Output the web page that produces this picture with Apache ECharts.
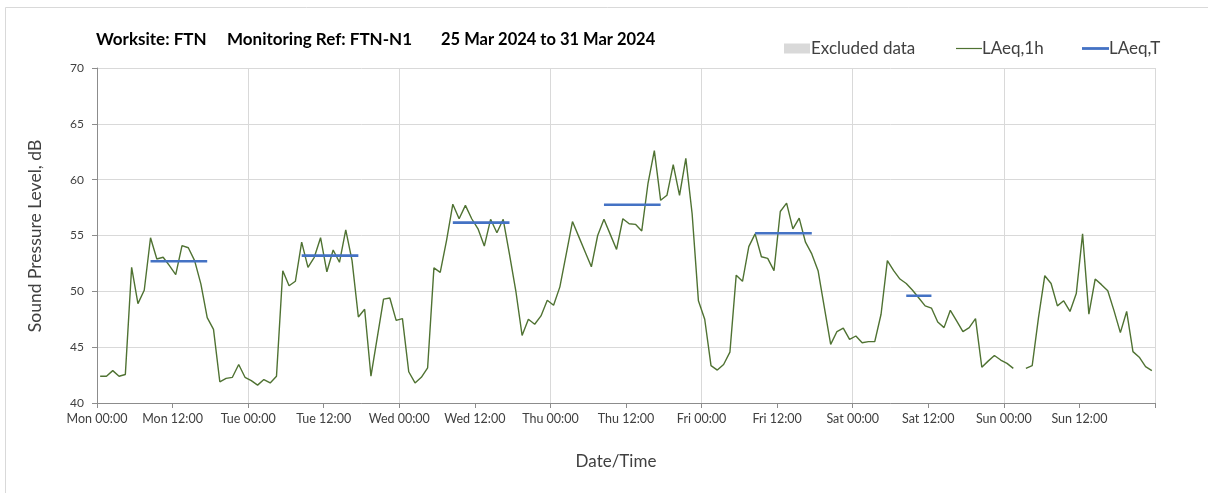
<!DOCTYPE html>
<html>
<head>
<meta charset="utf-8">
<script src="https://cdn.jsdelivr.net/npm/echarts@6/dist/echarts.min.js"></script>
<style>
html,body{margin:0;padding:0;background:#fff;}
#chart{width:1208px;height:493px;}
</style>
</head>
<body>
<div id="chart"></div>
<script>
// ---- Data ----
const dayNames = ['Mon', 'Tue', 'Wed', 'Thu', 'Fri', 'Sat', 'Sun'];
const tickTimes = ['00:00', '12:00'];
const yTicks = [40, 45, 50, 55, 60, 65, 70];

// Hourly LAeq,1h values, Mon 00:00 .. Sun 23:00 (null = missing)
const laeq1hMon = [42.4, 42.4, 42.9, 42.4, 42.55, 52.15, 48.9, 50.1, 54.8, 52.9, 53.05, 52.3, 51.5, 54.1, 53.9, 52.75, 50.65, 47.65, 46.6, 41.9, 42.2, 42.3, 43.45, 42.3];
const laeq1hTue = [42.0, 41.6, 42.1, 41.8, 42.4, 51.85, 50.5, 50.9, 54.4, 52.15, 53.05, 54.8, 51.75, 53.7, 52.6, 55.5, 52.75, 47.7, 48.4, 42.4, 45.85, 49.3, 49.4, 47.4];
const laeq1hWed = [47.55, 42.8, 41.8, 42.3, 43.15, 52.1, 51.7, 54.55, 57.8, 56.5, 57.7, 56.5, 55.6, 54.05, 56.45, 55.25, 56.45, 53.3, 50.05, 46.05, 47.5, 47.05, 47.8, 49.2];
const laeq1hThu = [48.75, 50.4, 53.3, 56.25, 54.9, 53.55, 52.2, 55.0, 56.45, 55.1, 53.75, 56.5, 56.05, 56.0, 55.4, 59.7, 62.6, 58.15, 58.6, 61.35, 58.6, 61.9, 56.95, 49.15];
const laeq1hFri = [47.5, 43.35, 42.95, 43.45, 44.55, 51.45, 50.9, 54.0, 55.15, 53.1, 52.95, 51.85, 57.15, 57.9, 55.6, 56.55, 54.4, 53.35, 51.85, 48.55, 45.25, 46.4, 46.7, 45.7];
const laeq1hSat = [46.0, 45.4, 45.5, 45.5, 47.95, 52.75, 51.85, 51.1, 50.7, 50.1, 49.4, 48.7, 48.5, 47.25, 46.75, 48.3, 47.35, 46.4, 46.75, 47.55, 43.2, 43.75, 44.25, 43.85];
const laeq1hSun = [43.55, 43.1, null, 43.1, 43.35, 47.65, 51.4, 50.7, 48.7, 49.15, 48.2, 49.8, 55.15, 47.95, 51.1, 50.6, 50.05, 48.25, 46.3, 48.2, 44.6, 44.1, 43.25, 42.9];

// LAeq,T (assessment period level) per day
const laeqTDay = [0, 1, 2, 3, 4, 5];
const laeqTValue = [52.7, 53.2, 56.15, 57.75, 55.2, 49.6];
const laeqTFirstHour = [8, 8, 8, 8, 8, 8];
const laeqTLastHour = [17, 17, 17, 17, 17, 12];

// ---- Build series data ----
const hourly = [].concat(laeq1hMon, laeq1hTue, laeq1hWed, laeq1hThu, laeq1hFri, laeq1hSat, laeq1hSun);
const lineData = hourly.map((v, i) => [i + 0.5, v]);

const tData = [];
laeqTDay.forEach((d, k) => {
  for (let h = laeqTFirstHour[k]; h <= laeqTLastHour[k]; h++) {
    tData.push([d * 24 + h + 0.5, laeqTValue[k]]);
  }
  tData.push([d * 24 + 23.9, null]);
});

const FONT = 'Lato, "Open Sans", sans-serif';
const TXT = '#404040';

const chart = echarts.init(document.getElementById('chart'), null, {renderer: 'canvas'});
chart.setOption({
  animation: false,
  backgroundColor: '#fff',
  textStyle: {fontFamily: FONT},
  grid: {left: 97, right: 53, top: 68, bottom: 90, containLabel: false},
  legend: [
    {left: 779, top: 35, itemWidth: 26, itemHeight: 10, itemGap: 0, icon: 'rect',
     data: ['Excluded data'], textStyle: {fontFamily: FONT, fontSize: 17, color: TXT, padding: [0, 0, 0, -4]}},
    {left: 951, top: 35, itemWidth: 26, itemHeight: 10, itemGap: 0,
     data: [{name: 'LAeq,1h', icon: 'path://M0,4.4 L26,4.4 L26,5.6 L0,5.6 Z'}], textStyle: {fontFamily: FONT, fontSize: 17, color: TXT, padding: [0, 0, 0, -5]}},
    {left: 1077, top: 35, itemWidth: 27, itemHeight: 10, itemGap: 0,
     data: [{name: 'LAeq,T', icon: 'path://M0,3.6 L27,3.6 L27,6.4 L0,6.4 Z'}], textStyle: {fontFamily: FONT, fontSize: 17, color: TXT, padding: [0, 0, 0, -5]}}
  ],
  xAxis: [
    {
      type: 'value', min: 0, max: 168, interval: 12,
      axisLine: {show: true, onZero: false, lineStyle: {color: '#8c8c8c', width: 1}},
      axisTick: {show: true, length: 5, lineStyle: {color: '#8c8c8c'}},
      axisLabel: {
        margin: 9, fontFamily: FONT, fontSize: 12.5, color: TXT,
        formatter: v => {
          const d = Math.floor(v / 24);
          if (d >= dayNames.length) return '';
          return dayNames[d] + ' ' + tickTimes[(v % 24) / 12];
        }
      },
      splitLine: {show: false}
    },
    {
      type: 'value', min: 0, max: 168, interval: 24, position: 'bottom',
      axisLine: {show: false}, axisTick: {show: false}, axisLabel: {show: false},
      splitLine: {show: true, lineStyle: {color: '#d9d9d9', width: 1}}
    }
  ],
  yAxis: {
    type: 'value', min: yTicks[0], max: yTicks[yTicks.length - 1], interval: 5,
    axisLine: {show: true, lineStyle: {color: '#8c8c8c'}},
    axisTick: {show: true, length: 5, lineStyle: {color: '#8c8c8c'}},
    axisLabel: {margin: 13, fontFamily: FONT, fontSize: 12, color: TXT},
    splitLine: {show: true, lineStyle: {color: '#d9d9d9', width: 1}}
  },
  series: [
    {name: 'Excluded data', type: 'bar', data: [], itemStyle: {color: '#d9d9d9'}},
    {name: 'LAeq,1h', type: 'line', data: lineData, showSymbol: false, symbol: 'none',
     connectNulls: false, lineStyle: {color: '#4f7232', width: 1.4}, itemStyle: {color: '#4f7232'}, z: 3},
    {name: 'LAeq,T', type: 'line', data: tData, showSymbol: false, symbol: 'none',
     connectNulls: false, lineStyle: {color: '#4472c4', width: 2.6}, itemStyle: {color: '#4472c4'}, z: 4}
  ],
  graphic: [
    {type: 'rect', silent: true, z: -1, shape: {x: 5.5, y: 7.5, width: 1300, height: 600},
     style: {fill: null, stroke: '#d9d9d9', lineWidth: 1}},
    {type: 'text', left: 96, top: 31, style: {text: 'Worksite: FTN', font: 'bold 17px ' + FONT, fill: '#000'}},
    {type: 'text', left: 227, top: 31, style: {text: 'Monitoring Ref: FTN-N1', font: 'bold 17px ' + FONT, fill: '#000'}},
    {type: 'text', left: 441, top: 31, style: {text: '25 Mar 2024 to 31 Mar 2024', font: 'bold 16.5px ' + FONT, fill: '#000'}},
    {type: 'text', x: 35, y: 236, rotation: Math.PI / 2,
     style: {text: 'Sound Pressure Level, dB', font: '17.5px ' + FONT, fill: TXT, align: 'center', verticalAlign: 'middle'}},
    {type: 'text', x: 616, y: 462,
     style: {text: 'Date/Time', font: '17px ' + FONT, fill: TXT, align: 'center', verticalAlign: 'middle'}}
  ]
});
</script>
</body>
</html>
